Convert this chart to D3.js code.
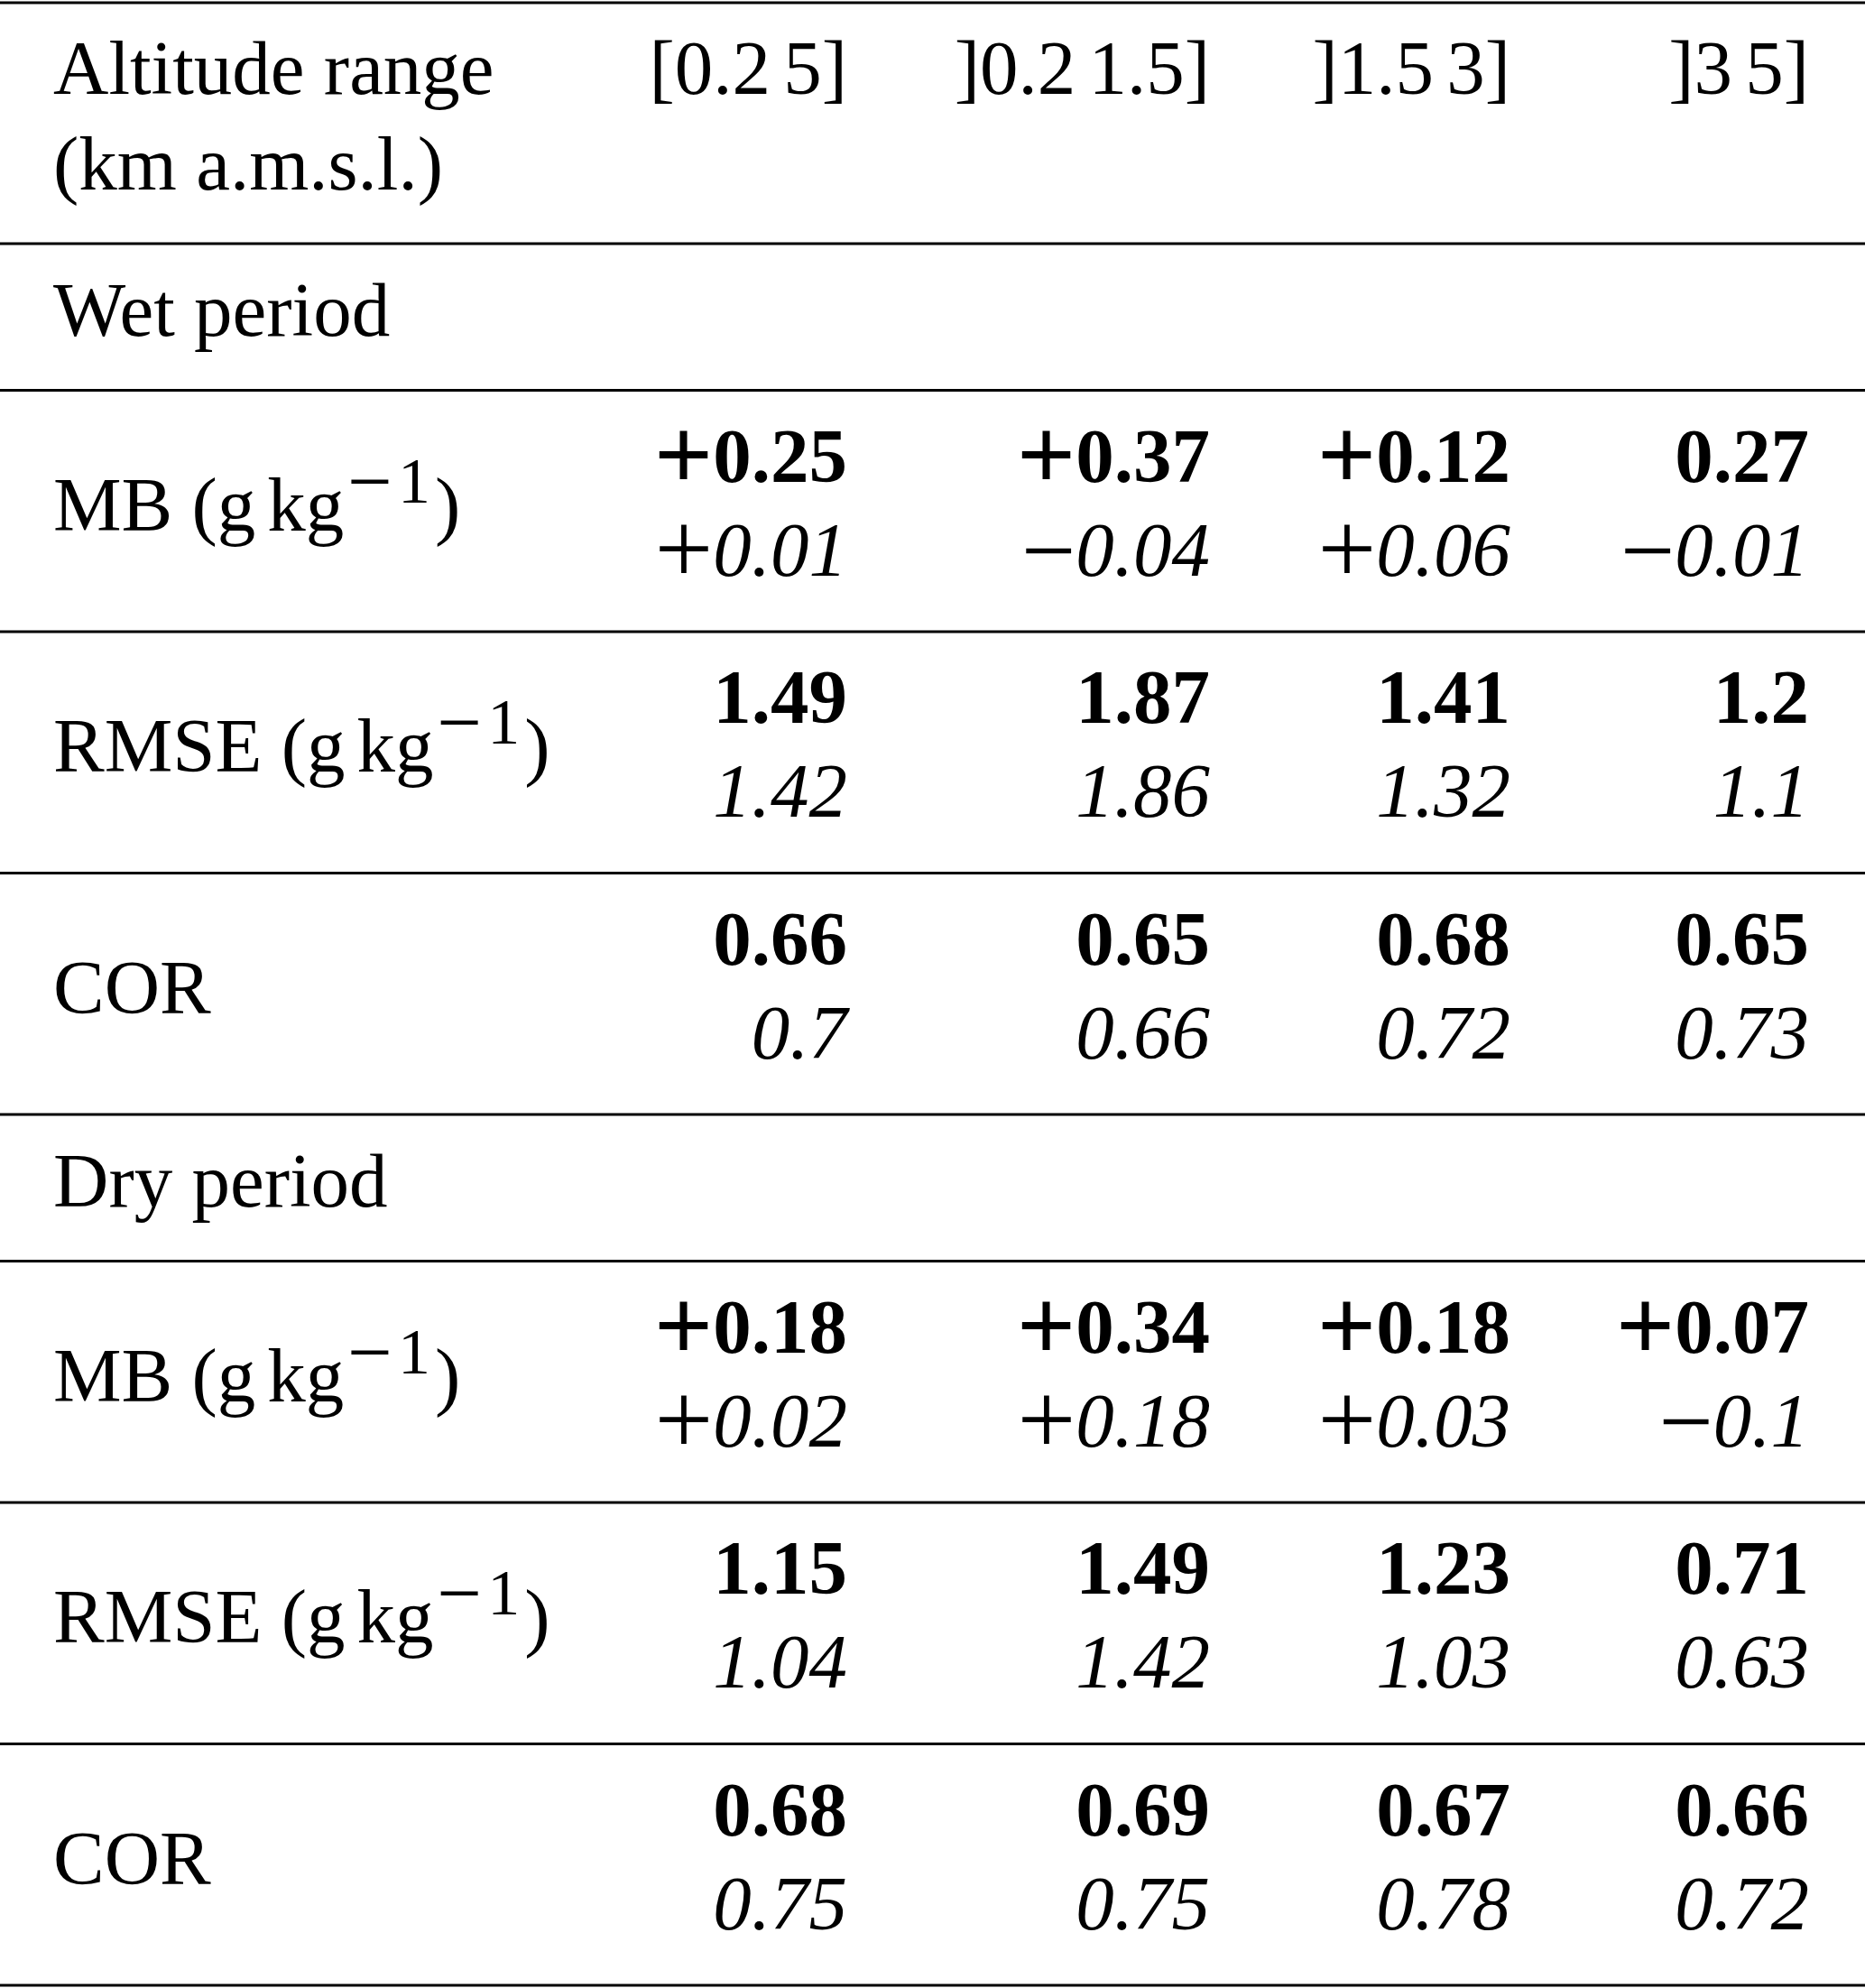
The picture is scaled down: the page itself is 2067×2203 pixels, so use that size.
<!DOCTYPE html>
<html>
<head>
<meta charset="utf-8">
<script src="https://cdn.jsdelivr.net/npm/d3@7"></script>
<style>
  body { margin: 0; background: #fff; }
  svg { display: block; }
  text { font-family: "Liberation Serif", "Times New Roman", serif; fill: #000; }
</style>
</head>
<body>
<div id="table"></div>
<script>
// column headers and row names
var altitudeRanges = ["[0.2\u20065]", "]0.2\u20061.5]", "]1.5\u20063]", "]3\u20065]"];
var periods = ["Wet period", "Dry period"];
var metrics = ["MB", "RMSE", "COR"];
var metricUnits = [true, true, false];   // MB and RMSE carry (g kg-1)

// first line of each cell is bold, second line italic
var wetBold = [
    ["+0.25", "+0.37", "+0.12", "0.27"],
    ["1.49", "1.87", "1.41", "1.2"],
    ["0.66", "0.65", "0.68", "0.65"]
];
var wetItalic = [
    ["+0.01", "\u22120.04", "+0.06", "\u22120.01"],
    ["1.42", "1.86", "1.32", "1.1"],
    ["0.7", "0.66", "0.72", "0.73"]
];
var dryBold = [
    ["+0.18", "+0.34", "+0.18", "+0.07"],
    ["1.15", "1.49", "1.23", "0.71"],
    ["0.68", "0.69", "0.67", "0.66"]
];
var dryItalic = [
    ["+0.02", "+0.18", "+0.03", "\u22120.1"],
    ["1.04", "1.42", "1.03", "0.63"],
    ["0.75", "0.75", "0.78", "0.72"]
];

var width = 2067, height = 2203;
var fontSize = 85;
var leftPad = 59;

var svg = d3.select("#table").append("svg")
    .attr("width", width)
    .attr("height", height);

svg.append("rect").attr("width", width).attr("height", height).attr("fill", "#fff");

// right edges of the value columns (LaTeX column widths)
var colX = d3.scaleOrdinal()
    .domain(d3.range(altitudeRanges.length))
    .range([939, 1341, 1674, 2005]);

// build the list of rows
var rows = [{ type: "header" }];
[[wetBold, wetItalic], [dryBold, dryItalic]].forEach(function(p, pi) {
    rows.push({ type: "section", label: periods[pi] });
    metrics.forEach(function(m, mi) {
        rows.push({ type: "data", label: m, units: metricUnits[mi], bold: p[0][mi], italic: p[1][mi] });
    });
});

var rowHeight = { header: 267, section: 162.5, data: 267.5 };
var yCursor = 3;
rows.forEach(function(r) {
    r.y = yCursor;
    yCursor += rowHeight[r.type];
});
var ruleYs = rows.map(function(r) { return r.y; }).concat([yCursor]);

// horizontal rules
svg.selectAll("line.rule")
    .data(ruleYs)
    .enter().append("line")
    .attr("class", "rule")
    .attr("x1", 0)
    .attr("x2", width)
    .attr("y1", function(d) { return d; })
    .attr("y2", function(d) { return d; })
    .attr("stroke", "#000")
    .attr("stroke-width", 3);

// header row
var header = rows[0];
var headerLabel = svg.append("text")
    .attr("x", leftPad)
    .attr("y", header.y + 101)
    .style("font-size", fontSize + "px");
headerLabel.append("tspan").attr("x", leftPad).text("Altitude range");
headerLabel.append("tspan").attr("x", leftPad).attr("dy", 106).text("(km a.m.s.l.)");

svg.selectAll("text.colhead")
    .data(altitudeRanges)
    .enter().append("text")
    .attr("class", "colhead")
    .attr("x", function(d, i) { return colX(i); })
    .attr("y", header.y + 101)
    .attr("text-anchor", "end")
    .style("font-size", fontSize + "px")
    .text(function(d) { return d; });

// section titles
rows.filter(function(r) { return r.type === "section"; }).forEach(function(r) {
    svg.append("text")
        .attr("x", leftPad)
        .attr("y", r.y + 102)
        .style("font-size", fontSize + "px")
        .text(r.label);
});

function splitSign(s) {
    var c = s.charAt(0);
    if (c === "+" || c === "\u2212") { return [c, s.slice(1)]; }
    return ["", s];
}

// the math signs are wider than the text ones, so draw them larger
function addNumber(sel, italic) {
    sel.append("tspan")
        .style("font-size", function(d) { return splitSign(d)[0] === "+" ? "115px" : "107px"; })
        .attr("dy", function(d) { return splitSign(d)[0] ? 8 : 0; })
        .text(function(d) { return splitSign(d)[0]; });
    sel.append("tspan")
        .attr("dy", function(d) { return splitSign(d)[0] ? -8 : 0; })
        .style("font-style", italic ? "italic" : null)
        .text(function(d) { return splitSign(d)[1]; });
}

// data rows
rows.filter(function(r) { return r.type === "data"; }).forEach(function(r) {
    var label = svg.append("text")
        .attr("x", leftPad)
        .attr("y", r.y + 155)
        .style("font-size", fontSize + "px");
    if (r.units) {
        label.append("tspan").text(r.label + " (g");
        label.append("tspan").attr("dx", 13).text("kg");
        label.append("tspan")
            .attr("dx", 4)
            .attr("dy", -25)
            .style("font-size", "88px")
            .text("\u2212");
        label.append("tspan")
            .attr("dx", 6)
            .attr("dy", -6)
            .style("font-size", "72px")
            .text("1");
        label.append("tspan").attr("dx", 5).attr("dy", 31).text(")");
    } else {
        label.text(r.label);
    }

    svg.selectAll(null)
        .data(r.bold)
        .enter().append("text")
        .attr("x", function(d, i) { return colX(i); })
        .attr("y", r.y + 101)
        .attr("text-anchor", "end")
        .style("font-size", fontSize + "px")
        .style("font-weight", "bold")
        .call(addNumber, false);

    svg.selectAll(null)
        .data(r.italic)
        .enter().append("text")
        .attr("x", function(d, i) { return colX(i); })
        .attr("y", r.y + 205)
        .attr("text-anchor", "end")
        .style("font-size", fontSize + "px")
        .call(addNumber, true);
});
</script>
</body>
</html>
